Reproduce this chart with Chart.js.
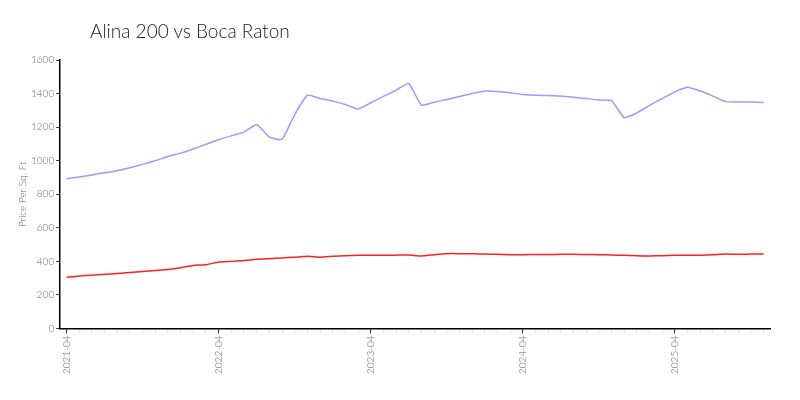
<!DOCTYPE html>
<html>
<head>
<meta charset="utf-8">
<script src="https://cdn.jsdelivr.net/npm/chart.js@4/dist/chart.umd.min.js"></script>
<style>
  body { margin: 0; background: #fff; }
  #wrap { position: relative; width: 800px; height: 400px; }
  #title { position: absolute; left: 90px; top: 19px; font: 300 19px Lato, sans-serif; color: #222; }
</style>
</head>
<body>
<div id="wrap">
  <div id="title">Alina 200 vs Boca Raton</div>
  <canvas id="chart" width="800" height="400"></canvas>
</div>
<script>
// monthly, 2021-04 .. 2025-11
const months = [
  "2021-04","2021-05","2021-06","2021-07","2021-08","2021-09","2021-10","2021-11","2021-12",
  "2022-01","2022-02","2022-03","2022-04","2022-05","2022-06","2022-07","2022-08","2022-09",
  "2022-10","2022-11","2022-12","2023-01","2023-02","2023-03","2023-04","2023-05","2023-06",
  "2023-07","2023-08","2023-09","2023-10","2023-11","2023-12","2024-01","2024-02","2024-03",
  "2024-04","2024-05","2024-06","2024-07","2024-08","2024-09","2024-10","2024-11","2024-12",
  "2025-01","2025-02","2025-03","2025-04","2025-05","2025-06","2025-07","2025-08","2025-09",
  "2025-10","2025-11"
];

const alina200 = [
  893, 903, 915, 928, 940, 958, 978, 1000, 1025,
  1045, 1070, 1098, 1125, 1148, 1170, 1215, 1140, 1128,
  1275, 1390, 1370, 1355, 1335, 1308, 1345, 1383, 1420,
  1460, 1331, 1348, 1365, 1382, 1400, 1415, 1413, 1405,
  1395, 1390, 1388, 1385, 1378, 1370, 1362, 1358, 1256,
  1285, 1330, 1370, 1410, 1437, 1415, 1385, 1352, 1350,
  1349, 1347
];

const bocaRaton = [
  305, 313, 318, 323, 328, 334, 340, 346, 352,
  362, 376, 380, 396, 400, 405, 412, 416, 420,
  425, 430, 425, 430, 434, 436, 436, 436, 437,
  438, 432, 440, 446, 446, 445, 444, 442, 440,
  440, 441, 441, 442, 442, 441, 440, 438, 436,
  433, 432, 434, 436, 436, 437, 440, 444, 442,
  444, 444
];

const yTitle = "Price Per Sq. Ft";

const font = { family: "Lato, sans-serif", weight: 300, size: 10 };

const monthTick = (ctx) => months[ctx.index] && months[ctx.index].endsWith("-04") ? "#333" : "#e4e4e4";

new Chart(document.querySelector("#chart").getContext("2d"), {
  type: "line",
  data: {
    labels: months,
    datasets: [
      {
        label: "Alina 200",
        data: alina200,
        borderColor: "#9a9aff",
        borderWidth: 1.5,
        pointRadius: 0,
        tension: 0.15,
      },
      {
        label: "Boca Raton",
        data: bocaRaton,
        borderColor: "#ff2020",
        borderWidth: 1.5,
        pointRadius: 0,
        tension: 0.15,
      },
    ],
  },
  options: {
    responsive: false,
    animation: false,
    layout: { padding: { top: 60, right: 30, bottom: 24, left: 17 } },
    plugins: { legend: { display: false }, tooltip: { enabled: false } },
    scales: {
      x: {
        offset: true,
        border: { color: "#000", width: 1.5 },
        grid: {
          drawOnChartArea: false,
          tickLength: 5,
          color: monthTick,
          tickColor: monthTick,
        },
        ticks: {
          autoSkip: false,
          minRotation: 90,
          maxRotation: 90,
          padding: 2,
          color: "#666",
          font: font,
          callback: (v, i) => months[i].endsWith("-04") ? months[i] : "",
        },
      },
      y: {
        min: 0,
        max: 1600,
        border: { color: "#000", width: 1.5 },
        grid: { drawOnChartArea: false, tickLength: 4, tickColor: "#333" },
        ticks: { stepSize: 200, padding: 2, color: "#666", font: font, callback: (v) => String(v) },
        title: { display: true, text: yTitle, color: "#666", padding: 0, font: { family: "Lato, sans-serif", weight: 300, size: 10 } },
      },
    },
  },
});
</script>
</body>
</html>
